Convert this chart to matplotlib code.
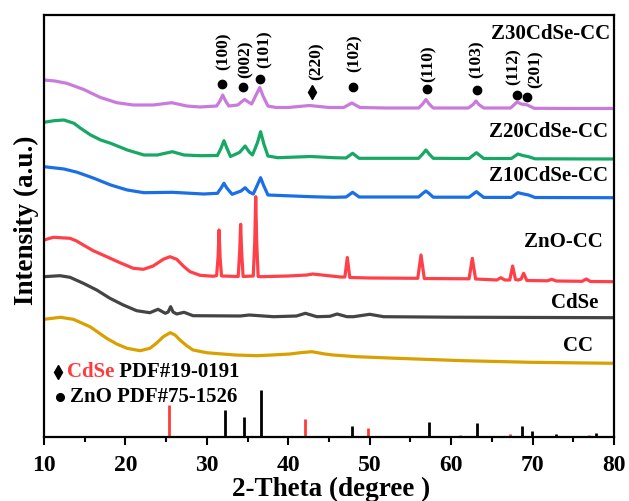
import matplotlib
matplotlib.use("Agg")
from matplotlib import pyplot as plt
import numpy as np

plt.rcParams['font.family'] = ['Liberation Serif', 'DejaVu Serif']
plt.rcParams['font.weight'] = 'bold'

# XRD curves, 2-theta (deg) and intensity (a.u., already offset)
x_z30 = [10.0, 11.35, 12.79, 14.83, 16.88, 18.93, 20.97, 23.42, 25.68, 27.52, 29.16, 31.2, 31.6, 31.95, 32.3,
         32.7, 33.8, 34.3, 34.65, 35.1, 35.5, 36.1, 36.5, 36.9, 37.5, 38.5, 40.0, 42.6, 45.0, 46.8, 47.8, 48.8,
         52.0, 56.0, 56.5, 56.9, 57.3, 57.8, 62.1, 62.7, 63.05, 63.4, 64.0, 67.3, 68.1, 68.6, 69.3, 70.2, 75.0,
         80.0]
y_z30 = [357, 356, 353.7, 347.7, 339.7, 334.3, 332, 332, 334.3, 331, 330, 331, 336, 342, 336,
         331, 332, 335.5, 337.5, 335, 333, 343, 349.5, 341, 331, 329.5, 329.5, 331.5, 329.5, 329.5, 334, 329.5,
         329, 329, 333, 337.5, 333, 329, 329, 332.5, 336, 332.5, 329, 329, 335, 333, 332.2, 328.7, 328.5,
         328.5]

x_z20 = [10.0, 11.23, 12.46, 13.68, 14.5, 15.73, 16.96, 18.19, 20.23, 22.28, 23.91, 25.76, 27.19, 29.24, 31.3,
         31.75, 32.1, 32.45, 32.9, 34.0, 34.7, 35.2, 35.6, 36.2, 36.6, 37.0, 37.5, 38.7, 42.75, 45.6, 47.1,
         47.9, 48.7, 56.0, 56.5, 56.9, 57.3, 57.8, 62.2, 63.1, 64.0, 67.4, 68.2, 68.8, 69.5, 70.3, 80.0]
y_z20 = [314.7, 316.3, 317, 313.7, 308.7, 302, 297, 293.7, 287, 282, 282, 285.3, 282, 281.3, 281.5,
         289, 296.3, 289, 280.5, 284.5, 291, 285, 282, 294, 305.3, 293, 281, 279.3, 280.5, 279.3, 279,
         283.7, 278.7, 278.7, 283, 287, 283, 278.7, 278.5, 284.3, 278.5, 278.5, 283, 281.5, 280.3, 278.2, 278]

x_z10 = [10.0, 12.46, 14.09, 16.14, 18.19, 20.23, 22.28, 25.76, 29.6, 31.3, 31.75, 32.1, 32.45, 33.1, 34.2,
         34.7, 35.2, 35.7, 36.2, 36.6, 37.0, 37.5, 42.75, 45.6, 47.1, 47.9, 48.7, 56.0, 56.5, 56.9, 57.3,
         57.8, 62.2, 63.1, 64.0, 67.4, 68.2, 68.9, 69.5, 70.3, 80.0]
y_z10 = [270.3, 268, 264.7, 258.7, 252, 247, 244.3, 244.7, 243, 243.7, 249, 253.7, 249, 242.7, 246,
         249.3, 245, 243, 252, 259.3, 251, 242, 240.3, 239.7, 240, 244.7, 240, 240, 243.5, 246, 243.5,
         239.8, 239.8, 245.3, 239.6, 239.6, 244.3, 243, 242, 239.5, 239.3]

x_zno = [10.0, 11.15, 13.2, 14.0, 14.83, 16.05, 17.7, 19.33, 20.97, 22.2, 23.4, 24.65, 25.47, 26.3, 27.1,
         27.93, 29.16, 30.8, 31.2, 31.38, 31.5, 31.62, 31.8, 33.85, 34.03, 34.15, 34.27, 34.45, 35.7, 35.88,
         36.0, 36.12, 36.3, 36.7, 40.0, 42.3, 43.0, 46.4, 46.95, 47.25, 47.55, 50.0, 55.9, 56.3, 56.7,
         62.2, 62.6, 63.0, 65.6, 66.1, 66.6, 67.2, 67.55, 67.9, 68.25, 68.6, 68.9, 69.3, 71.8, 72.35, 72.9,
         76.1, 76.6, 77.1, 80.0]
y_zno = [197, 199.7, 198.7, 196, 192, 186.3, 180.3, 174.3, 168.7, 167.7, 171, 177.7, 180.3, 177.7, 171,
         165.3, 161.7, 160.7, 161.5, 180, 207, 180, 161, 160.5, 185, 212.7, 185, 160.5, 161, 195,
         240.3, 195, 160.5, 160.3, 161, 162, 163, 160, 160, 179.5, 159.5, 159, 158.7, 182, 158.5,
         158.2, 178.7, 158, 157, 159.3, 157, 157, 171, 157.5, 157, 158, 163.7, 156.5, 156.2, 157.7, 156,
         155.7, 158, 155.5, 155.3]

x_cdse = [10.0, 11.96, 13.19, 14.83, 16.47, 18.1, 19.74, 21.38, 23.0, 24.0, 24.9, 25.25, 25.55, 25.85, 26.3,
          27.2, 28.3, 34.1, 35.2, 38.2, 41.0, 42.1, 43.5, 45.1, 46.0, 47.2, 48.0, 50.0, 51.7, 60.0, 80.0]
y_cdse = [160.3, 161.3, 159.7, 153.7, 147, 138.7, 132, 126.3, 124.3, 127.7, 123.7, 125, 130.3, 125, 123,
          124.7, 121.3, 121, 122, 120.3, 121, 123.7, 120.3, 120.7, 123, 120.3, 120.3, 122.7, 120.3, 119.8, 119.3]

x_cc = [10.0, 12.0, 13.6, 15.65, 17.7, 18.93, 20.2, 21.8, 23.0, 23.8, 24.65, 25.5, 26.09, 26.7, 27.52,
        28.3, 29.98, 30.8, 33.5, 36.1, 38.0, 40.2, 41.5, 42.9, 44.5, 45.5, 48.4, 53.3, 61.5, 69.7, 80.0]
y_cc = [117.7, 119.7, 117.7, 110.3, 98.7, 93, 88.7, 86.3, 88.7, 93.7, 100.3, 104.3, 102, 97, 91.3,
        87, 84.3, 83.7, 82, 81.3, 82, 83, 84.3, 85.3, 83, 82, 80.3, 78.7, 76.3, 74.7, 73.7]

# standard cards
cdse_pos = [25.35, 42.05, 49.75, 61.05, 67.2, 76.93]
cdse_int = [31.7, 18.3, 9.3, 2.5, 3.5, 2.5]
zno_pos = [32.19, 34.6, 36.65, 47.87, 57.32, 63.2, 68.66, 69.93, 72.84, 77.83]
zno_int = [26.7, 20, 47.3, 11, 15, 14, 10.7, 6.3, 3, 3.7]

# peak marks on the Z30 curve
peak_x = [31.82, 34.48, 36.53, 42.95, 47.91, 57.0, 63.13, 68.12, 69.28]
peak_y = [353, 350.3, 357.7, 345.3, 350.3, 348, 347, 342, 339.7]
peak_kind = ['o', 'o', 'o', 'd', 'o', 'o', 'o', 'o', 'o']
hkl = ['(100)', '(002)', '(101)', '(220)', '(102)', '(110)', '(103)', '(112)', '(201)']
hkl_x = [32.02, 34.77, 37.14, 43.49, 48.19, 57.19, 63.13, 67.63, 70.42]
hkl_y = [367, 359, 368.7, 357, 365.3, 355.3, 358.7, 352, 348.7]

names = ['Z30CdSe-CC', 'Z20CdSe-CC', 'Z10CdSe-CC', 'ZnO-CC', 'CdSe', 'CC']
name_x = [79.51, 79.26, 79.26, 78.65, 78.03, 77.42]
name_y = [403, 304.7, 261, 195, 134.3, 91.3]

curves = [(x_z30, y_z30), (x_z20, y_z20), (x_z10, y_z10), (x_zno, y_zno), (x_cdse, y_cdse), (x_cc, y_cc)]
colors = ['#C97BDD', '#17A865', '#1A6FE6', '#FF4048', '#444444', '#D9A000']

fig = plt.figure(figsize=(6.29, 5.01), dpi=100)
ax = fig.add_axes([44/629, 1-437/501, 570/629, 422/501])

for (xs, ys), c in zip(curves, colors):
    ax.plot(xs, ys, color=c, lw=2.3, solid_joinstyle='round')

ax.vlines(cdse_pos, 0, cdse_int, color='#FF3B3B', lw=2)
ax.vlines(zno_pos, 0, zno_int, color='black', lw=2)

for px, py, m in zip(peak_x, peak_y, peak_kind):
    if m == 'o':
        ax.plot(px, py, 'o', color='black', ms=6)
    else:
        ax.plot(px, py, 'd', color='black', ms=7.5)
for t, tx, ty in zip(hkl, hkl_x, hkl_y):
    ax.text(tx, ty, t, rotation=90, ha='center', va='bottom', fontsize=12.5, fontweight='bold')

for t, tx, ty in zip(names, name_x, name_y):
    ax.text(tx, ty, t, ha='right', va='center', fontsize=15, fontweight='bold')

# card legend
ax.plot(11.72, 65, 'd', color='black', ms=7.5)
t1 = ax.text(12.82, 65, 'CdSe', color='#FF3B3B', ha='left', va='center', fontsize=15, fontweight='bold')
ax.annotate(' PDF#19-0191', xy=(1, 0), xycoords=t1, ha='left', va='bottom', fontsize=15, fontweight='bold')
ax.plot(11.96, 40.5, 'o', color='black', ms=5.5)
ax.text(13.19, 40.5, 'ZnO PDF#75-1526', ha='left', va='center', fontsize=15, fontweight='bold')

ax.set_xlim(10, 80)
ax.set_ylim(0, 422)
ax.set_xticks(np.arange(10, 81, 10))
ax.set_xticks(np.arange(15, 80, 10), minor=True)
ax.set_yticks([])
ax.tick_params(axis='x', which='major', direction='out', length=6, width=1.5, labelsize=17, pad=7)
ax.tick_params(axis='x', which='minor', direction='out', length=3.5, width=1.5)
for lab in ax.get_xticklabels():
    lab.set_fontweight('bold')
for s in ax.spines.values():
    s.set_linewidth(1.6)

fig.text(331/629, 1-489/501, '2-Theta (degree )', ha='center', va='center', fontsize=19.5, fontweight='bold')
fig.text(26/629, 1-220/501, 'Intensity (a.u.)', rotation=90, ha='center', va='center', fontsize=19.5,
         fontweight='bold')

plt.savefig("out.png", dpi=100)
